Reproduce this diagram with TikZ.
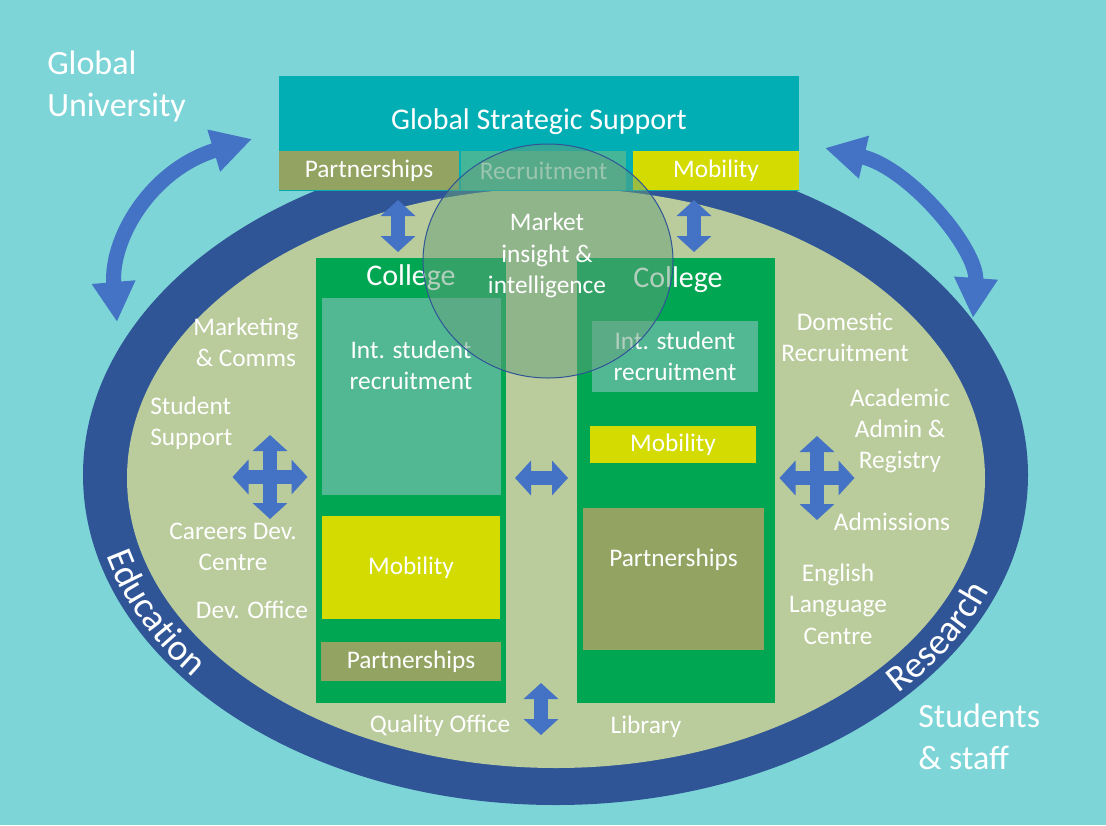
\documentclass[tikz,border=0pt]{standalone}
\usepackage{fontspec}
\setmainfont{Carlito}
\usepackage{tikz}
\usetikzlibrary{arrows.meta,decorations.text,shapes.geometric}
\definecolor{unisky}{RGB}{125,213,216}
\definecolor{uninavy}{RGB}{47,85,151}
\definecolor{unisage}{RGB}{186,203,156}
\definecolor{uniteal}{RGB}{0,174,179}
\definecolor{unigreen}{RGB}{0,166,81}
\definecolor{unisea}{RGB}{82,184,148}
\definecolor{unilime}{RGB}{212,219,0}
\definecolor{uniolive}{RGB}{146,163,98}
\definecolor{uniblue}{RGB}{68,114,196}
\definecolor{unimist}{RGB}{103,160,124}
\newcommand{\ringfont}{\fontsize{28}{32}\selectfont\color{white}}

\begin{document}
\begin{tikzpicture}[x=0.75pt, y=-0.75pt,
    every node/.style={text=white, font=\fontsize{19}{23.5}\selectfont},
    box/.style={inner sep=0pt},
    lbl/.style={align=center, inner sep=0pt},
    dbl/.style={line width=10.5pt, uniblue, {Triangle[width=25.5pt,length=12pt]}-{Triangle[width=25.5pt,length=12pt]}},
    sweep/.style={line width=11.25pt, uniblue, {Triangle[width=30.75pt,length=30pt]}-{Triangle[width=30.75pt,length=30pt]}}]
% Background
\fill[unisky] (0,0) rectangle (1106,825);
\useasboundingbox (0,0) rectangle (1106,825);

% Ring
\fill[uninavy] (555.5,475) ellipse [x radius=472.5, y radius=330];
\fill[unisage] (556,478) ellipse [x radius=429, y radius=290];
\path[decorate, decoration={text along path, text align=center, text={|\ringfont|Education}}]
    (556,476) ++(181:464 and 323) arc[start angle=181, end angle=129, x radius=464, y radius=323];
\path[decorate, decoration={text along path, text align=center, text={|\ringfont|Research}}]
    (556,476) ++(56:464 and 323) arc[start angle=56, end angle=4, x radius=464, y radius=323];

% Corner texts
\node[lbl, anchor=west, align=left, font=\fontsize{25.5}{31.5}\selectfont] (globaluni) at (47,86) {Global\\University};
\node[lbl, anchor=west, align=left, font=\fontsize{25.5}{31.5}\selectfont] (people) at (918,736.5) {Students\\\& staff};

% Sweeping arrows
\coordinate (gl1) at (117,322);
\coordinate (gl2) at (252,139);
\coordinate (gr1) at (825,148);
\coordinate (gr2) at (973,318);
\draw[sweep] (gl1) .. controls (110,240) and (150,170) .. (gl2);
\draw[sweep] (gr1) .. controls (910,168) and (978,250) .. (gr2);

% Global Strategic Support
\node[box, fill=uniteal, minimum width=390pt, minimum height=86.25pt] (gss) at (539,133.5) {};
\node (gsstitle) at (539,122) {\fontsize{22.5}{27}\selectfont Global Strategic Support};
\node[box, fill=uniolive, minimum width=135pt, minimum height=29.25pt] (gpart) at (369,170.5) {Partnerships};
\node[box, fill=unisea!85!uniteal, minimum width=123.75pt, minimum height=29.25pt, text=white!72!unisea] (grec) at (543.5,170.5) {Recruitment};
\node[box, fill=unilime, minimum width=124.5pt, minimum height=29.25pt] (gmob) at (716,170.5) {Mobility};

% Left college
\node[box, fill=unigreen, minimum width=142.5pt, minimum height=333.75pt] (lcol) at (411,480.5) {};
\node (lcoltitle) at (411,278) {\fontsize{22.5}{27}\selectfont College};
\node[box, fill=unisea, minimum width=134.25pt, minimum height=147.75pt] (lint) at (411.5,396.5) {};
\node[lbl] (linttext) at (411,365) {Int. student\\recruitment};
\node[box, fill=unilime, minimum width=133.5pt, minimum height=77.25pt] (lmob) at (411,567.5) {Mobility};
\node[box, fill=uniolive, minimum width=135pt, minimum height=29.25pt] (lpart) at (411,661.5) {Partnerships};

% Right college
\node[box, fill=unigreen, minimum width=148.5pt, minimum height=333.75pt] (rcol) at (676,480.5) {};
\node (rcoltitle) at (678,280) {\fontsize{22.5}{27}\selectfont College};
\node[box, fill=unisea, minimum width=124.5pt, minimum height=53.25pt, align=center] (rint) at (675,356.5) {Int. student\\recruitment};
\node[box, fill=unilime, minimum width=124.5pt, minimum height=27.75pt] (rmob) at (673,444.5) {Mobility};
\node[box, fill=uniolive, minimum width=135.75pt, minimum height=106.5pt] (rpart) at (673.5,579) {};
\node (rparttext) at (673.5,560) {Partnerships};

% Services
\node[lbl] (mkcomms) at (246,342) {Marketing\\\& Comms};
\node[lbl, anchor=west, align=left] (support) at (150,423) {Student\\Support};
\node[lbl] (careers) at (233,547) {Careers Dev.\\Centre};
\node[lbl] (devoffice) at (252,610) {Dev. Office};
\node[lbl] (quality) at (440,726) {Quality Office};
\node[lbl] (library) at (646,727) {Library};
\node[lbl] (domestic) at (845,337) {Domestic\\Recruitment};
\node[lbl] (registry) at (900,431) {Academic\\Admin \&\\Registry};
\node[lbl] (admissions) at (892,522) {Admissions};
\node[lbl] (elc) at (838,604) {English\\Language\\Centre};

% Links
\coordinate (la1) at (398,200);
\coordinate (la2) at (398,252);
\coordinate (ra1) at (694,200);
\coordinate (ra2) at (694,252);
\coordinate (ma1) at (515,478);
\coordinate (ma2) at (568,478);
\coordinate (ba1) at (541,683);
\coordinate (ba2) at (541,735);
\draw[dbl] (la1) -- (la2);
\draw[dbl] (ra1) -- (ra2);
\draw[dbl] (ma1) -- (ma2);
\draw[dbl] (ba1) -- (ba2);
\foreach \n/\cx/\cy in {wx/270/477, ex/817/478} {
    \coordinate (\n w) at (\cx-37.5,\cy);
    \coordinate (\n e) at (\cx+37.5,\cy);
    \coordinate (\n n) at (\cx,\cy-42);
    \coordinate (\n s) at (\cx,\cy+42);
    \draw[dbl] (\n w) -- (\n e);
    \draw[dbl] (\n n) -- (\n s);
}

% Market insight
\node[ellipse, minimum width=187.5pt, minimum height=175.5pt, fill=unimist, fill opacity=0.5, draw=uninavy, line width=0.75pt] (mkt) at (548,261) {};
\node[lbl] (mkttext) at (547,255.5) {Market\\insight \&\\intelligence};
\end{tikzpicture}
\end{document}
